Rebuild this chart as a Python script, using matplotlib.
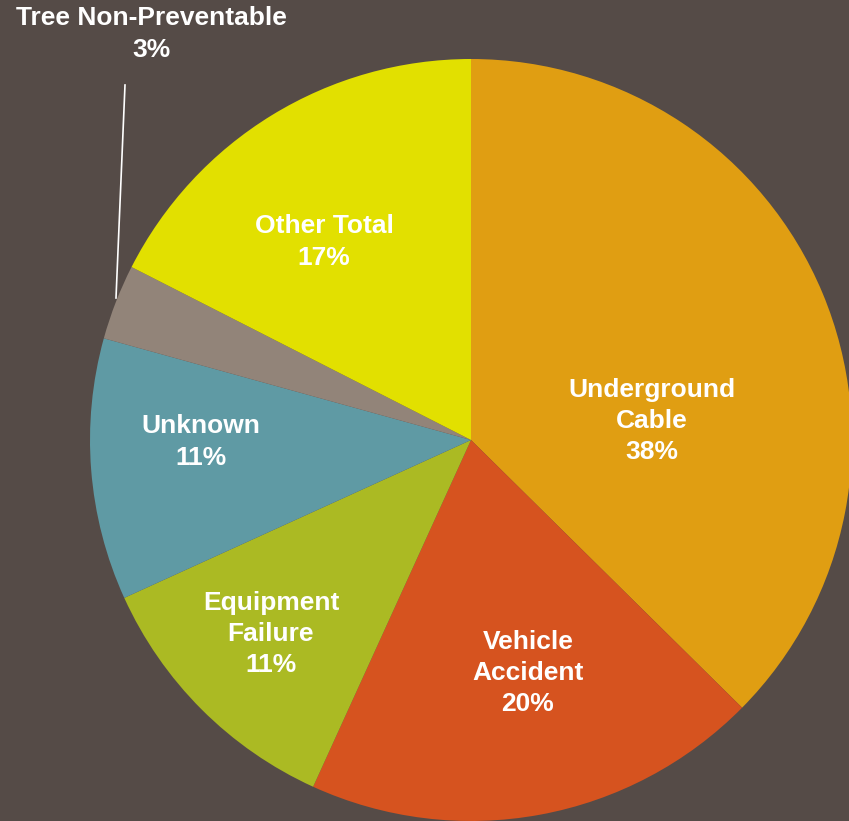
import matplotlib.pyplot as plt

# Outage causes (share of total, %)
causes = ["Underground\nCable", "Vehicle\nAccident", "Equipment\nFailure",
          "Unknown", "Tree Non-Preventable", "Other Total"]
shares = [37.4, 19.4, 11.4, 11.1, 3.2, 17.5]
pct_labels = ["38%", "20%", "11%", "11%", "3%", "17%"]
colors = ["#E09E12", "#D6531F", "#ABBA23", "#5F9AA4", "#928479", "#E2E000"]

bg = "#554B47"
W, H = 849, 821

fig = plt.figure(figsize=(W / 100, H / 100), dpi=100, facecolor=bg)
ax = fig.add_axes([0, 0, 1, 1])
ax.set_facecolor(bg)

# work in pixel-like coordinates (y up)
cx, cy, r = 471, H - 440, 381
ax.pie(shares, colors=colors, startangle=90, counterclock=False,
       center=(cx, cy), radius=r, frame=True,
       wedgeprops=dict(linewidth=0))
ax.set_xlim(0, W)
ax.set_ylim(0, H)
ax.set_aspect("equal")
ax.axis("off")

font = dict(color="white", fontweight="bold", family="Liberation Sans",
            fontsize=19, ha="center", va="center", linespacing=1.38)

# label positions (pixels from top-left)
label_pos = [(652, 421), (528, 673), (271, 634), (201, 442), (151, 34), (324, 242)]
for name, pct, (x, y) in zip(causes, pct_labels, label_pos):
    ax.text(x, H - y, f"{name}\n{pct}", **font)

# leader line for the small slice
ax.plot([125, 116], [H - 85, H - 298], color="white", lw=1.2)

fig.savefig("out.png", dpi=100, facecolor=bg)
